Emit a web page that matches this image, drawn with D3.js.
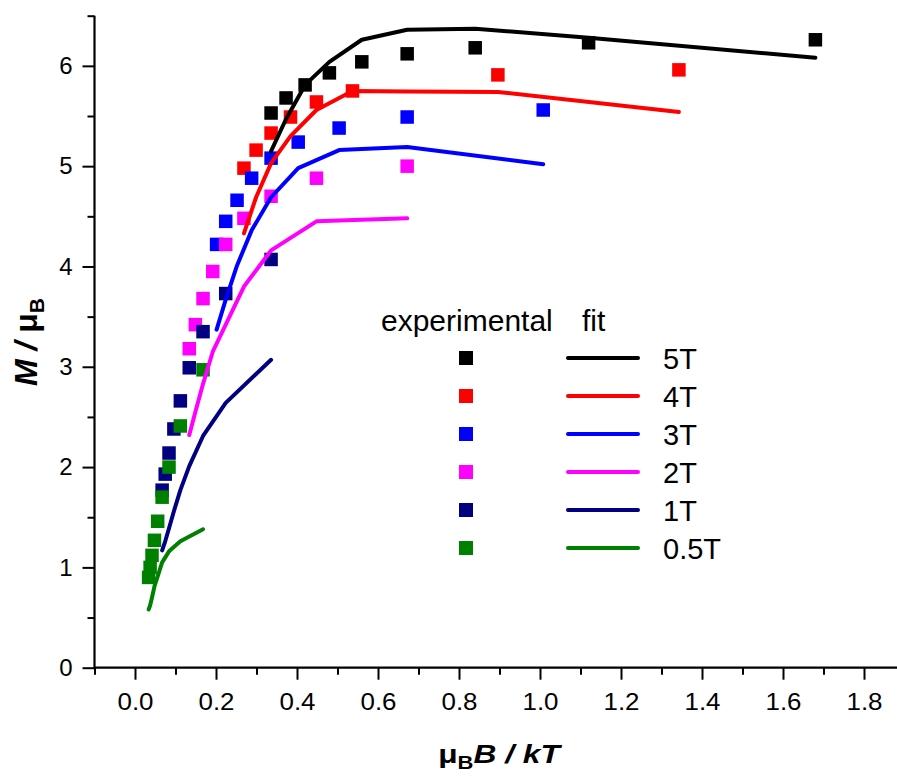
<!DOCTYPE html>
<html>
<head>
<meta charset="utf-8">
<script src="https://cdn.jsdelivr.net/npm/d3@7"></script>
<style>
  html, body { margin: 0; padding: 0; background: #fff; }
  svg { display: block; font-family: "Liberation Sans", Arial, sans-serif; }
</style>
</head>
<body>
<svg id="chart" width="897" height="776"></svg>
<script>
// ---- data ----
const seriesNames = ["5T", "4T", "3T", "2T", "1T", "0.5T"];
const seriesColors = ["#000000", "#ff0000", "#0000ff", "#ff00ff", "#000080", "#008000"];

const exp5x = [0.336, 0.373, 0.420, 0.480, 0.560, 0.672, 0.840, 1.120, 1.680];
const exp5y = [5.53, 5.68, 5.81, 5.93, 6.04, 6.12, 6.18, 6.23, 6.26];
const exp4x = [0.269, 0.299, 0.336, 0.384, 0.448, 0.537, 0.896, 1.343];
const exp4y = [4.98, 5.16, 5.33, 5.49, 5.64, 5.75, 5.91, 5.96];
const exp3x = [0.2015, 0.224, 0.252, 0.288, 0.336, 0.403, 0.504, 0.672, 1.008];
const exp3y = [4.22, 4.45, 4.66, 4.88, 5.08, 5.24, 5.38, 5.49, 5.56];
const exp2x = [0.134, 0.149, 0.168, 0.192, 0.224, 0.269, 0.336, 0.448, 0.672];
const exp2y = [3.18, 3.42, 3.68, 3.95, 4.22, 4.48, 4.70, 4.88, 5.00];
const exp1x = [0.067, 0.0746, 0.084, 0.096, 0.112, 0.134, 0.168, 0.224, 0.336];
const exp1y = [1.77, 1.93, 2.14, 2.38, 2.66, 2.99, 3.35, 3.73, 4.07];
const exp05x = [0.0336, 0.0373, 0.042, 0.048, 0.056, 0.067, 0.084, 0.112, 0.168];
const exp05y = [0.90, 1.00, 1.12, 1.27, 1.46, 1.70, 2.00, 2.41, 2.97];

const fit5x = [0.336, 0.373, 0.420, 0.480, 0.560, 0.672, 0.840, 1.120, 1.680];
const fit5y = [5.15, 5.47, 5.81, 6.04, 6.26, 6.36, 6.37, 6.28, 6.08];
const fit4x = [0.269, 0.299, 0.336, 0.384, 0.448, 0.537, 0.672, 0.896, 1.343];
const fit4y = [4.33, 4.69, 5.03, 5.30, 5.56, 5.75, 5.745, 5.74, 5.54];
const fit3x = [0.2015, 0.224, 0.252, 0.288, 0.336, 0.403, 0.504, 0.672, 1.008];
const fit3y = [3.37, 3.67, 4.01, 4.36, 4.69, 4.98, 5.16, 5.19, 5.02];
const fit2x = [0.134, 0.149, 0.168, 0.192, 0.224, 0.269, 0.336, 0.448, 0.672];
const fit2y = [2.32, 2.55, 2.83, 3.15, 3.42, 3.80, 4.16, 4.45, 4.48];
const fit1x = [0.067, 0.0746, 0.084, 0.096, 0.112, 0.134, 0.168, 0.224, 0.336];
const fit1y = [1.17, 1.26, 1.39, 1.56, 1.77, 2.01, 2.31, 2.64, 3.07];
const fit05x = [0.0336, 0.0373, 0.042, 0.048, 0.056, 0.067, 0.084, 0.112, 0.168];
const fit05y = [0.58, 0.62, 0.70, 0.81, 0.91, 1.05, 1.16, 1.26, 1.38];

const xMajorTicks = [0.0, 0.2, 0.4, 0.6, 0.8, 1.0, 1.2, 1.4, 1.6, 1.8];
const xMinorTicks = [-0.1, 0.1, 0.3, 0.5, 0.7, 0.9, 1.1, 1.3, 1.5, 1.7];
const yMajorTicks = [0, 1, 2, 3, 4, 5, 6];
const yMinorTicks = [0.5, 1.5, 2.5, 3.5, 4.5, 5.5, 6.5];

const expX = [exp5x, exp4x, exp3x, exp2x, exp1x, exp05x];
const expY = [exp5y, exp4y, exp3y, exp2y, exp1y, exp05y];
const fitX = [fit5x, fit4x, fit3x, fit2x, fit1x, fit05x];
const fitY = [fit5y, fit4y, fit3y, fit2y, fit1y, fit05y];

// ---- layout ----
const svg = d3.select("#chart");
const x = d3.scaleLinear().domain([-0.1, 1.9]).range([94.5, 904.5]);
const y = d3.scaleLinear().domain([0, 6.5]).range([667.7, 15.7]);

// axes
const xAxisMajor = d3.axisBottom(x).tickValues(xMajorTicks).tickSize(12).tickPadding(13)
  .tickFormat(d3.format(".1f"));
const xAxisMinor = d3.axisBottom(x).tickValues(xMinorTicks).tickSize(7).tickFormat("");
const yAxisMajor = d3.axisLeft(y).tickValues(yMajorTicks).tickSize(12).tickPadding(10)
  .tickFormat(d3.format("d"));
const yAxisMinor = d3.axisLeft(y).tickValues(yMinorTicks).tickSize(7).tickFormat("");

function styleAxis(g) {
  g.selectAll("path.domain").remove();
  g.selectAll("line").attr("stroke", "#000").attr("stroke-width", 2);
  g.selectAll("text").attr("fill", "#000").style("font-size", "24px")
    .style("font-family", "'Liberation Sans', Arial, sans-serif");
}

const gx = svg.append("g").attr("transform", `translate(0,${y(0)})`);
gx.call(xAxisMajor).call(styleAxis);
const gx2 = svg.append("g").attr("transform", `translate(0,${y(0)})`);
gx2.call(xAxisMinor).call(styleAxis);
const gy = svg.append("g").attr("transform", `translate(${x(-0.1)},0)`);
gy.call(yAxisMajor).call(styleAxis);
const gy2 = svg.append("g").attr("transform", `translate(${x(-0.1)},0)`);
gy2.call(yAxisMinor).call(styleAxis);

// axis lines
svg.append("line").attr("x1", x(-0.1)).attr("x2", 897).attr("y1", y(0)).attr("y2", y(0))
  .attr("stroke", "#000").attr("stroke-width", 2.2);
svg.append("line").attr("x1", x(-0.1)).attr("x2", x(-0.1)).attr("y1", y(0) + 1).attr("y2", y(6.5))
  .attr("stroke", "#000").attr("stroke-width", 2.2);

// x tick label stretch
gx.selectAll(".tick text").attr("transform", "scale(1.08,1)");

// markers
const sq = 13.5;
seriesNames.forEach((name, i) => {
  const pts = expX[i].map((v, j) => [v, expY[i][j]]);
  svg.append("g").selectAll("rect").data(pts).join("rect")
    .attr("x", d => x(d[0]) - sq / 2).attr("y", d => y(d[1]) - sq / 2)
    .attr("width", sq).attr("height", sq).attr("fill", seriesColors[i]);
});

// fit lines
const line = d3.line().x(d => x(d[0])).y(d => y(d[1]));
seriesNames.forEach((name, i) => {
  const pts = fitX[i].map((v, j) => [v, fitY[i][j]]);
  svg.append("path").datum(pts).attr("d", line).attr("fill", "none")
    .attr("stroke", seriesColors[i]).attr("stroke-width", 4)
    .attr("stroke-linecap", "round").attr("stroke-linejoin", "round");
});

// legend
const lg = svg.append("g");
lg.append("text").attr("x", 381).attr("y", 331).style("font-size", "30px").text("experimental");
lg.append("text").attr("x", 582).attr("y", 331).style("font-size", "30px").text("fit");
seriesNames.forEach((name, i) => {
  const cy = 358 + i * 38;
  lg.append("rect").attr("x", 466 - 7).attr("y", cy - 7).attr("width", 14).attr("height", 14)
    .attr("fill", seriesColors[i]);
  lg.append("line").attr("x1", 568).attr("x2", 638).attr("y1", cy).attr("y2", cy)
    .attr("stroke", seriesColors[i]).attr("stroke-width", 4).attr("stroke-linecap", "round");
  lg.append("text").attr("x", 663).attr("y", cy + 10.5).style("font-size", "29px").text(name);
});

// axis titles
const xt = svg.append("text").attr("transform", "translate(499,763) scale(1.22,1)")
  .attr("text-anchor", "middle")
  .style("font-size", "26px").style("font-weight", "bold");
xt.append("tspan").text("\u03BC");
xt.append("tspan").attr("dy", 6).style("font-size", "18px").text("B");
xt.append("tspan").attr("dy", -6).style("font-style", "italic").text("B / kT");

const yt = svg.append("text").attr("transform", "translate(37,342) rotate(-90)")
  .attr("text-anchor", "middle").style("font-size", "32px").style("font-weight", "bold");
yt.append("tspan").style("font-style", "italic").text("M / ");
yt.append("tspan").text("\u03BC");
yt.append("tspan").attr("dy", 7).style("font-size", "21px").text("B");
</script>
</body>
</html>
